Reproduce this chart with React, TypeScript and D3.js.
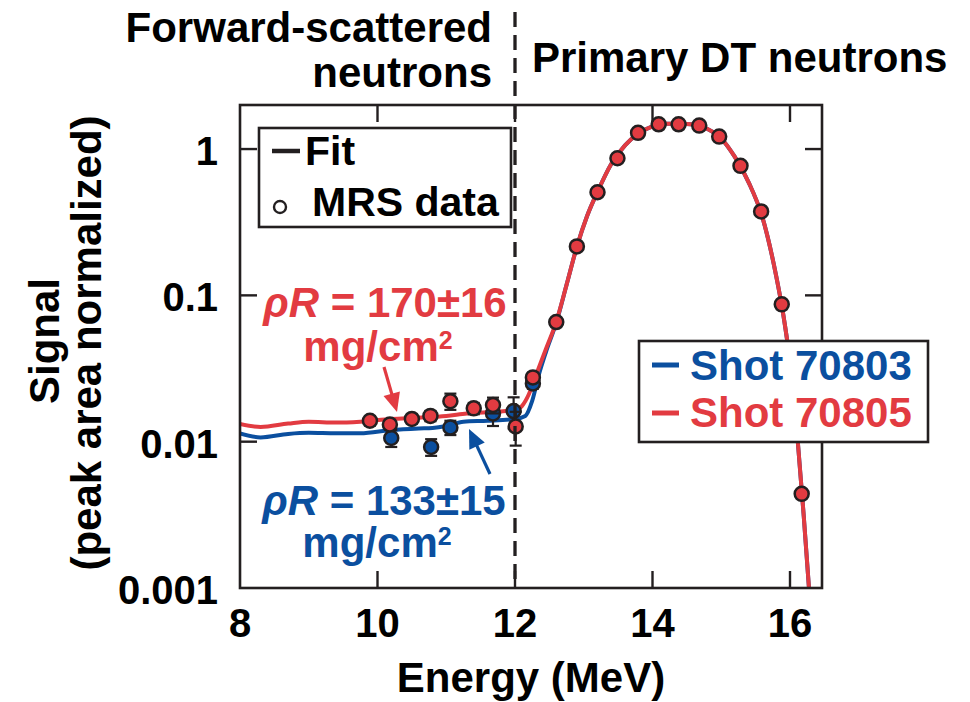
import React from 'react';
import * as d3 from 'd3';

const RED = '#e23b41';
const BLUE = '#0b4f9f';
const INK = '#231f20';
const FONT = '"Liberation Sans", Arial, Helvetica, sans-serif';

// Fit curves
const redFitEnergy = [8.0, 8.3, 8.7, 9.0, 9.4, 9.75, 10.2, 10.6, 11.0, 11.3, 11.7, 12.0, 12.1, 12.2, 12.3, 12.45, 12.6, 12.75, 12.9, 13.05, 13.2, 13.4, 13.6, 13.8, 14.0, 14.2, 14.4, 14.6, 14.8, 15.0, 15.2, 15.4, 15.6, 15.8, 15.9, 16.0, 16.1, 16.2, 16.3];
const redFitSignal = [0.0132, 0.0126, 0.0133, 0.0137, 0.0135, 0.0137, 0.0143, 0.0146, 0.015, 0.0156, 0.016, 0.0164, 0.0175, 0.021, 0.028, 0.043, 0.066, 0.118, 0.215, 0.35, 0.51, 0.79, 1.06, 1.28, 1.43, 1.49, 1.49, 1.47, 1.37, 1.18, 0.88, 0.59, 0.34, 0.135, 0.075, 0.035, 0.012, 0.0031, 0.0007];

const blueFitEnergy = [8.0, 8.3, 8.7, 9.0, 9.4, 9.75, 10.2, 10.6, 10.8, 11.0, 11.25, 11.6, 12.0, 12.15, 12.25, 12.35, 12.45, 12.6, 12.75, 12.9, 13.05, 13.2, 13.4, 13.6, 13.8, 14.0, 14.2, 14.4, 14.6, 14.8, 15.0, 15.2, 15.4, 15.6, 15.8, 15.9, 16.0, 16.1, 16.2, 16.3];
const blueFitSignal = [0.0114, 0.0107, 0.0113, 0.0115, 0.0114, 0.0114, 0.012, 0.0123, 0.0124, 0.0128, 0.0137, 0.0139, 0.0143, 0.015, 0.019, 0.029, 0.041, 0.065, 0.118, 0.215, 0.35, 0.51, 0.79, 1.06, 1.28, 1.43, 1.49, 1.49, 1.47, 1.37, 1.18, 0.88, 0.59, 0.34, 0.135, 0.075, 0.035, 0.012, 0.0031, 0.0007];

// MRS data points
const blueDataEnergy = [10.2, 10.78, 11.06, 11.68, 11.98, 12.26];
const blueDataSignal = [0.0106, 0.0092, 0.0125, 0.0156, 0.0162, 0.025];
const blueDataError = [0.0014, 0.0012, 0.0014, 0.0028, 0.0039, 0.002];

const redDataEnergy = [9.89, 10.18, 10.5, 10.77, 11.06, 11.4, 11.68, 12.01, 12.26, 12.6, 12.9, 13.2, 13.49, 13.79, 14.09, 14.38, 14.68, 14.97, 15.28, 15.58, 15.88, 16.17];
const redDataSignal = [0.0139, 0.0131, 0.0143, 0.015, 0.0189, 0.0169, 0.0178, 0.0127, 0.0275, 0.0657, 0.216, 0.507, 0.865, 1.29, 1.476, 1.476, 1.447, 1.217, 0.768, 0.3745, 0.0868, 0.0044];
const redDataError = [0.001, 0.001, 0.001, 0.0012, 0.0024, 0.0015, 0.0022, 0.0033, 0.002, 0, 0, 0, 0, 0, 0, 0, 0, 0, 0, 0, 0, 0];

const xTickValues = [8, 10, 12, 14, 16];
const xTickLabels = ['8', '10', '12', '14', '16'];
const yTickValues = [0.001, 0.01, 0.1, 1];
const yTickLabels = ['0.001', '0.01', '0.1', '1'];

const W = 970;
const H = 702;
const L = 240, R = 822, T = 105, B = 588;

export default function App() {
  const x = d3.scaleLinear().domain([8, 8 + (R - L) / 68.75]).range([L, R]);
  const y = d3.scaleLog().domain([0.001, 2]).range([B, T]);

  const line = d3
    .line<[number, number]>()
    .x((d) => x(d[0]))
    .y((d) => y(d[1]))
    .curve(d3.curveMonotoneX);

  const redPath = line(redFitEnergy.map((e, i) => [e, redFitSignal[i]]) as [number, number][]) || '';
  const bluePath = line(blueFitEnergy.map((e, i) => [e, blueFitSignal[i]]) as [number, number][]) || '';

  const tickLen = 17;
  const fs = 42;

  const arrow = (x1: number, y1: number, x2: number, y2: number, color: string) => {
    const dx = x2 - x1, dy = y2 - y1;
    const len = Math.hypot(dx, dy);
    const ux = dx / len, uy = dy / len;
    const hl = 19, hw = 8.5;
    const bx = x2 - ux * hl, by = y2 - uy * hl;
    const px = -uy, py = ux;
    return (
      <g>
        <line x1={x1} y1={y1} x2={bx + ux * 2} y2={by + uy * 2} stroke={color} strokeWidth={3.2} />
        <polygon
          points={`${x2},${y2} ${bx + px * hw},${by + py * hw} ${bx - px * hw},${by - py * hw}`}
          fill={color}
        />
      </g>
    );
  };

  const renderPoints = (es: number[], vs: number[], errs: number[], color: string) => (
    <g>
      {es.map((e, i) =>
        errs[i] > 0 ? (
          <g key={'e' + i} stroke={INK} strokeWidth={2.2}>
            <line x1={x(e)} x2={x(e)} y1={y(vs[i] + errs[i])} y2={y(vs[i] - errs[i])} />
            <line x1={x(e) - 6} x2={x(e) + 6} y1={y(vs[i] + errs[i])} y2={y(vs[i] + errs[i])} />
            <line x1={x(e) - 6} x2={x(e) + 6} y1={y(vs[i] - errs[i])} y2={y(vs[i] - errs[i])} />
          </g>
        ) : null
      )}
      {es.map((e, i) => (
        <circle key={'c' + i} cx={x(e)} cy={y(vs[i])} r={7} fill={color} stroke={INK} strokeWidth={2.5} />
      ))}
    </g>
  );

  return (
    <svg
      width={W}
      height={H}
      viewBox={`0 0 ${W} ${H}`}
      style={{ position: 'absolute', left: 0, top: 0, background: '#fff' }}
      fontFamily={FONT}
      fontWeight="bold"
    >
      <rect x={0} y={0} width={W} height={H} fill="#fff" />
      <defs>
        <clipPath id="plotClip">
          <rect x={L} y={T} width={R - L} height={B - T} />
        </clipPath>
      </defs>

      {/* Section titles */}
      <text x={492} y={42} fontSize={fs} textAnchor="end" fill="#000">Forward-scattered</text>
      <text x={492} y={87} fontSize={fs} textAnchor="end" fill="#000">neutrons</text>
      <text x={532} y={72} fontSize={fs} fill="#000">Primary DT neutrons</text>

      {/* Fit curves */}
      <g clipPath="url(#plotClip)" fill="none" strokeLinejoin="round">
        <path d={bluePath} stroke={BLUE} strokeWidth={4} />
        <path d={redPath} stroke={RED} strokeWidth={4} />
      </g>

      {/* Data */}
      {renderPoints(blueDataEnergy, blueDataSignal, blueDataError, BLUE)}
      {renderPoints(redDataEnergy, redDataSignal, redDataError, RED)}

      {/* Frame */}
      <rect x={L} y={T} width={R - L} height={B - T} fill="none" stroke={INK} strokeWidth={2.6} />

      {/* X ticks */}
      {xTickValues.map((v, i) => (
        <g key={'xt' + i}>
          {v > 8 && (
            <>
              <line x1={x(v)} x2={x(v)} y1={B} y2={B - tickLen} stroke={INK} strokeWidth={2.4} />
              <line x1={x(v)} x2={x(v)} y1={T} y2={T + tickLen} stroke={INK} strokeWidth={2.4} />
            </>
          )}
          <text x={x(v)} y={637} fontSize={40} textAnchor="middle" fill="#000">{xTickLabels[i]}</text>
        </g>
      ))}

      {/* Y ticks */}
      {yTickValues.map((v, i) => (
        <g key={'yt' + i}>
          {v > 0.001 && (
            <>
              <line x1={L} x2={L + tickLen} y1={y(v)} y2={y(v)} stroke={INK} strokeWidth={2.4} />
              <line x1={R} x2={R - tickLen} y1={y(v)} y2={y(v)} stroke={INK} strokeWidth={2.4} />
            </>
          )}
          <text x={218} y={y(v) + 16} fontSize={40} textAnchor="end" fill="#000">{yTickLabels[i]}</text>
        </g>
      ))}

      {/* Dashed 12 MeV divider */}
      <line x1={x(12)} x2={x(12)} y1={12} y2={B} stroke={INK} strokeWidth={3.3} strokeDasharray="15 8" />

      {/* Axis titles */}
      <text x={531} y={692} fontSize={fs} textAnchor="middle" fill="#000">Energy (MeV)</text>
      <text transform="translate(59,341) rotate(-90)" fontSize={fs} textAnchor="middle" fill="#000">Signal</text>
      <text transform="translate(101,343) rotate(-90)" fontSize={fs} textAnchor="middle" fill="#000">(peak area normalized)</text>

      {/* Legend 1 */}
      <rect x={259} y={128} width={252} height={99} fill="#fff" stroke={INK} strokeWidth={2.6} />
      <line x1={272} x2={300} y1={151} y2={151} stroke={INK} strokeWidth={4.5} />
      <text x={305} y={165} fontSize={41} fill="#000">Fit</text>
      <circle cx={280} cy={207} r={6} fill="#fff" stroke={INK} strokeWidth={2.4} />
      <text x={312} y={216} fontSize={41} fill="#000">MRS data</text>

      {/* Legend 2 */}
      <rect x={639} y={341} width={289} height={101} fill="#fff" stroke={INK} strokeWidth={2.6} />
      <line x1={652} x2={679} y1={365} y2={365} stroke={BLUE} strokeWidth={5} />
      <text x={690} y={380} fontSize={fs} fill={BLUE}>Shot 70803</text>
      <line x1={652} x2={679} y1={413} y2={413} stroke={RED} strokeWidth={5} />
      <text x={690} y={427} fontSize={fs} fill={RED}>Shot 70805</text>

      {/* Annotations */}
      <text x={385} y={317} fontSize={fs} textAnchor="middle" fill={RED}>
        <tspan fontStyle="italic">ρR</tspan> = 170±16
      </text>
      <text x={378} y={361} fontSize={fs} textAnchor="middle" fill={RED}>
        mg/cm<tspan fontSize={25} dy={-12}>2</tspan>
      </text>
      {arrow(384, 367, 397, 412, RED)}

      <text x={384} y={515} fontSize={fs} textAnchor="middle" fill={BLUE}>
        <tspan fontStyle="italic">ρR</tspan> = 133±15
      </text>
      <text x={377} y={557} fontSize={fs} textAnchor="middle" fill={BLUE}>
        mg/cm<tspan fontSize={25} dy={-12}>2</tspan>
      </text>
      {arrow(490, 474, 469, 429, BLUE)}
    </svg>
  );
}
